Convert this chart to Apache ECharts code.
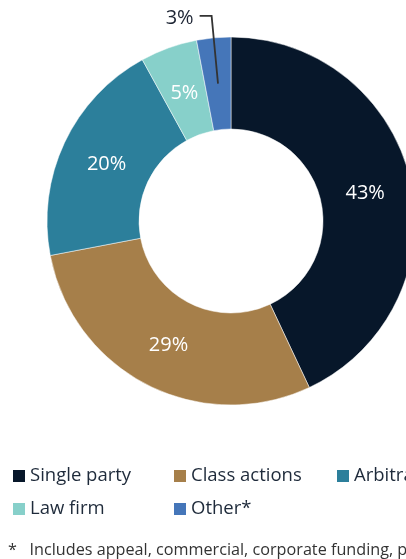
<!DOCTYPE html>
<html>
<head>
<meta charset="utf-8">
<script src="https://cdn.jsdelivr.net/npm/echarts@6/dist/echarts.min.js"></script>
<style>
  html, body { margin: 0; padding: 0; background: #fff; }
  #chart { width: 406px; height: 559px; }
</style>
</head>
<body>
<div id="chart"></div>
<script>
var categories = ['Single party', 'Class actions', 'Arbitration', 'Law firm', 'Other*'];
var shares = [43, 29, 20, 5, 3];
var colors = ['#07172a', '#a67f4a', '#2c7f9b', '#87d0ca', '#4576b9'];
var outsideIndex = 4; // the 3% slice is labelled outside the ring
var footnote = '*   Includes appeal, commercial, corporate funding, pa';

var chart = echarts.init(document.getElementById('chart'));

var innerR = 92, outerR = 184;
var midR = (innerR + outerR) / 2;
var pieCenter = [231, 221];

// the coloured ring itself
var ringData = categories.map(function (name, i) {
    return { name: name, value: shares[i], itemStyle: { color: colors[i] } };
});

// transparent ring slightly narrower than the real one; carries the
// percentage labels so they sit a little nearer the hole
var labelData = categories.map(function (name, i) {
    var item = { name: name, value: shares[i] };
    if (i === outsideIndex) item.label = { show: false };
    return item;
});

// invisible pie whose outer edge sits mid-ring, so the leader
// line for the small slice starts inside the slice
var leaderData = categories.map(function (name, i) {
    var item = { name: name, value: shares[i], label: { show: false }, labelLine: { show: false } };
    if (i === outsideIndex) {
        item.label = {
            show: true,
            position: 'outside',
            formatter: '{c}%',
            fontFamily: 'Open Sans',
            fontSize: 20,
            color: '#1c2433',
            distanceToLabelLine: 6,
            offset: [0, 2]
        };
        item.labelLine = {
            show: true,
            length: 68,
            length2: 12,
            smooth: false,
            lineStyle: { color: '#333', width: 1.8 }
        };
    }
    return item;
});

var legendText = { fontFamily: 'Open Sans', fontSize: 18.5, color: '#1e2a3a', lineHeight: 20 };
function makeLegend(left, names) {
    return {
        orient: 'vertical',
        left: left,
        top: 466,
        padding: 0,
        itemWidth: 12,
        itemHeight: 12,
        itemGap: 13,
        icon: 'rect',
        selectedMode: false,
        itemStyle: { borderWidth: 0 },
        textStyle: legendText,
        data: names
    };
}

function helperPie(z, radius, data, label) {
    return {
        type: 'pie',
        z: z,
        silent: true,
        center: pieCenter,
        radius: radius,
        startAngle: 90,
        clockwise: true,
        avoidLabelOverlap: false,
        itemStyle: { color: 'rgba(0,0,0,0)', borderWidth: 0 },
        emphasis: { disabled: true },
        label: label,
        labelLine: { show: false },
        data: data
    };
}

chart.setOption({
    animation: false,
    title: {
        text: footnote,
        left: 3,
        top: 537,
        textStyle: { fontFamily: 'Open Sans', fontSize: 16.2, fontWeight: 'normal', color: '#333' }
    },
    legend: [
        makeLegend(13, [categories[0], categories[3]]),
        makeLegend(174, [categories[1], categories[4]]),
        makeLegend(337, [categories[2]])
    ],
    series: [{
        type: 'pie',
        z: 2,
        center: pieCenter,
        radius: [innerR, outerR],
        startAngle: 90,
        clockwise: true,
        avoidLabelOverlap: false,
        itemStyle: { borderColor: '#fff', borderWidth: 0.5 },
        label: { show: false },
        labelLine: { show: false },
        data: ringData
    },
    helperPie(4, [innerR, outerR - 7], labelData, {
        show: true,
        position: 'inside',
        formatter: '{c}%',
        fontFamily: 'Open Sans',
        fontSize: 20,
        color: '#fff',
        offset: [0, 2]
    }),
    helperPie(5, [0, midR], leaderData, { show: false })]
});
</script>
</body>
</html>
